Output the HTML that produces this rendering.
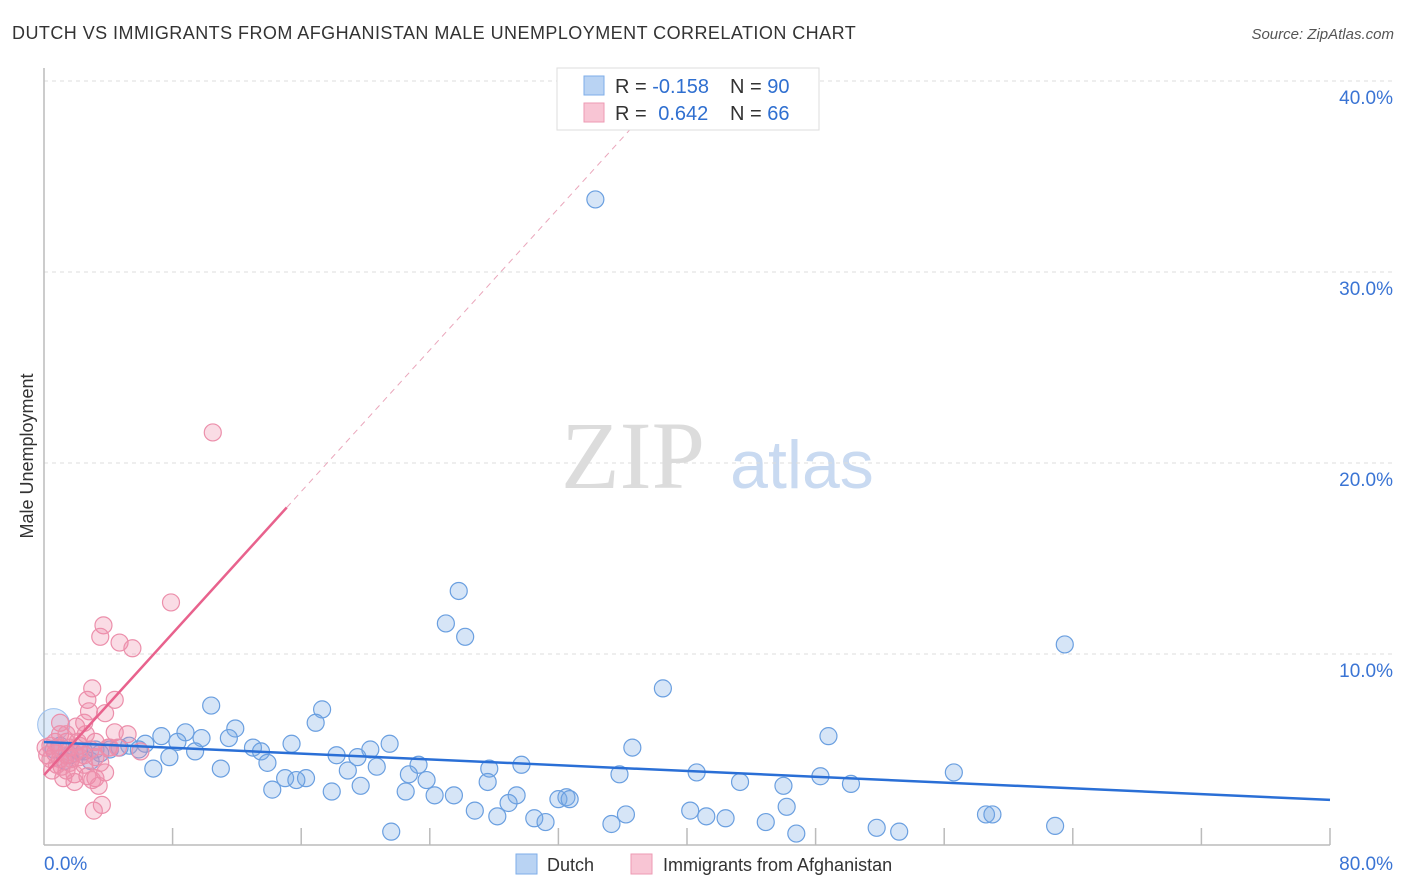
<!DOCTYPE html>
<html><head><meta charset="utf-8">
<style>
body{margin:0;background:#fff;font-family:"Liberation Sans",sans-serif;}
svg{display:block}
</style></head>
<body>
<svg id="chart" width="1406" height="892">
<text x="12" y="39" font-size="18" letter-spacing="0.45" fill="#333">DUTCH VS IMMIGRANTS FROM AFGHANISTAN MALE UNEMPLOYMENT CORRELATION CHART</text>
<text x="1394" y="39" font-size="15" font-style="italic" fill="#555" text-anchor="end">Source: ZipAtlas.com</text>
<text x="633" y="488" font-size="96" font-family="Liberation Serif,serif" fill="#dcdcdc" text-anchor="middle">ZIP</text>
<text x="802" y="488" font-size="68" fill="#c9daf1" text-anchor="middle">atlas</text>
<text transform="translate(33,456) rotate(-90)" font-size="18" fill="#333" text-anchor="middle">Male Unemployment</text>
<g id="grid"></g>
<g id="marks"></g>
<g>
<rect x="557" y="68" width="262" height="62" fill="#fff" stroke="#ddd"/>
<rect x="584" y="76" width="20" height="19" fill="#b9d3f3" stroke="#7eaee8"/>
<rect x="584" y="103" width="20" height="19" fill="#f8c5d4" stroke="#ee9ab3"/>
<text x="615" y="93" font-size="20" fill="#333">R = <tspan fill="#2f6fd0">-0.158</tspan></text>
<text x="730" y="93" font-size="20" fill="#333">N = <tspan fill="#2f6fd0">90</tspan></text>
<text x="615" y="120" font-size="20" fill="#333">R = <tspan fill="#2f6fd0" dx="6">0.642</tspan></text>
<text x="730" y="120" font-size="20" fill="#333">N = <tspan fill="#2f6fd0">66</tspan></text>
</g>
<g>
<rect x="516" y="854" width="21" height="20" fill="#b9d3f3" stroke="#7eaee8"/>
<text x="547" y="871" font-size="18" fill="#333">Dutch</text>
<rect x="631" y="854" width="21" height="20" fill="#f8c5d4" stroke="#ee9ab3"/>
<text x="663" y="871" font-size="18" fill="#333">Immigrants from Afghanistan</text>
</g>
</svg>
<script>
const yTicks=[10,20,30,40];
const yTickLabels=["10.0%","20.0%","30.0%","40.0%"];
const xTickVals=[0,8,16,24,32,40,48,56,64,72,80];
const dutchX=[34.3,25.8,25.0,26.2,63.5,38.5,10.4,17.3,16.9,11.9,8.8,7.3,48.8,11.5,9.8,8.3,6.3,15.4,21.5,36.6,13.0,20.3,13.5,18.2,19.5,7.8,9.4,4.7,13.9,23.3,29.7,27.7,6.8,11.0,18.9,20.7,56.6,35.8,40.6,22.7,15.0,16.3,15.7,48.3,23.8,27.6,43.3,50.2,46.0,14.2,17.9,19.7,22.5,24.3,25.5,29.4,32.0,32.5,32.7,28.9,46.2,40.2,26.8,36.2,58.6,59.0,28.2,41.2,30.5,42.4,31.2,44.9,35.3,51.8,62.9,53.2,46.8,21.6,0.6,2.2,3.2,4.1,1.6,1.0,3.5,5.3,5.9,2.9,1.3,2.5];
const dutchY=[33.8,13.3,11.6,10.9,10.5,8.2,7.3,7.1,6.4,6.1,5.9,5.7,5.7,5.6,5.6,5.4,5.3,5.3,5.3,5.1,5.1,5.0,4.9,4.7,4.6,4.6,4.9,5.1,4.3,4.2,4.2,4.0,4.0,4.0,3.9,4.1,3.8,3.7,3.8,3.7,3.5,3.5,3.4,3.6,3.4,3.3,3.3,3.2,3.1,2.9,2.8,3.1,2.8,2.6,2.6,2.6,2.4,2.5,2.4,2.2,2.0,1.8,1.8,1.6,1.6,1.6,1.5,1.5,1.4,1.4,1.2,1.2,1.1,0.9,1.0,0.7,0.6,0.7,5.0,4.9,5.0,5.0,4.7,5.2,4.8,5.2,5.0,4.4,4.4,4.9];
const afghanX=[10.5,7.9,3.7,3.5,4.7,5.5,3.0,4.4,2.7,3.8,2.8,1.0,2.0,2.5,5.2,1.4,1.0,4.4,3.2,4.1,6.0,0.4,0.7,1.4,1.6,1.9,2.2,2.5,2.9,1.0,1.6,2.2,3.2,0.4,0.7,1.4,0.1,0.9,3.5,3.8,2.7,3.2,1.9,1.2,4.0,4.6,2.5,1.1,1.7,3.4,3.0,3.6,3.1,0.2,0.5,2.1,2.6,1.4,0.8,1.9];
const afghanY=[21.6,12.7,11.5,10.9,10.6,10.3,8.2,7.6,7.6,6.9,7.0,6.4,6.2,6.4,5.8,5.4,5.8,5.9,5.4,5.1,4.9,5.2,4.8,4.7,5.1,4.8,5.2,4.7,5.0,4.5,4.3,4.6,4.6,4.5,5.4,3.9,5.1,5.1,4.3,3.8,3.6,3.5,3.7,3.5,5.1,5.1,4.2,4.1,4.5,3.1,3.4,2.1,1.8,4.7,3.9,5.4,5.8,5.8,4.2,3.3];
const dutchLine=[[0,5.39],[80,2.36]];
const afghanSolid=[[0,3.66],[15.1,17.67]];
const afghanDash=[[15.1,17.67],[39.2,40]];

const NS="http://www.w3.org/2000/svg";
const X0=44,X1=1330,Y0=845,PXY=19.1;
function sx(v){return X0+v*(X1-X0)/80;}
function sy(v){return Y0-v*PXY;}
function mk(t,a,parent){const e=document.createElementNS(NS,t);for(const k in a)e.setAttribute(k,a[k]);parent.appendChild(e);return e;}
const grid=document.getElementById('grid'),marks=document.getElementById('marks');
yTicks.forEach((v,i)=>{
  const l=mk('line',{x1:X0,x2:1394,y1:sy(v),y2:sy(v),stroke:'#ddd','stroke-dasharray':'4,4'},grid);
  
  
  const t=mk('text',{x:1393,y:sy(v)+23,'font-size':19,fill:'#3a74d4','text-anchor':'end'},grid);
  t.textContent=yTickLabels[i];
  
  
});
const ax=mk('line',{x1:X0,x2:X1,y1:Y0,y2:Y0,stroke:'#bbb','stroke-width':1.5},grid);


const ay=mk('line',{x1:X0,x2:X0,y1:68,y2:Y0,stroke:'#bbb','stroke-width':1.5},grid);


xTickVals.slice(1).forEach(v=>{
  const l=mk('line',{x1:sx(v),x2:sx(v),y1:828,y2:Y0,stroke:'#bbb','stroke-width':1.5},grid);
  
  
});
const xl0=mk('text',{x:44,y:870,'font-size':19,fill:'#3a74d4'},grid);xl0.textContent='0.0%';


const xl1=mk('text',{x:1393,y:870,'font-size':19,fill:'#3a74d4','text-anchor':'end'},grid);xl1.textContent='80.0%';



const big=mk('circle',{cx:sx(0.6),cy:sy(6.3),r:16,fill:'rgba(120,170,230,0.25)',stroke:'#9cc0ee'},marks);


dutchX.forEach((x,i)=>{
  const c=mk('circle',{cx:sx(x),cy:sy(dutchY[i]),r:8.5,fill:'rgba(120,170,230,0.3)',stroke:'#6a9fe0','stroke-width':1.2},marks);
  
  
});
afghanX.forEach((x,i)=>{
  const c=mk('circle',{cx:sx(x),cy:sy(afghanY[i]),r:8.5,fill:'rgba(240,140,170,0.3)',stroke:'#ec8fab','stroke-width':1.2},marks);
  
  
});
const bl=mk('line',{x1:sx(dutchLine[0][0]),y1:sy(dutchLine[0][1]),x2:sx(dutchLine[1][0]),y2:sy(dutchLine[1][1]),stroke:'#2a6fd6','stroke-width':2.5},marks);


const pl=mk('line',{x1:sx(afghanSolid[0][0]),y1:sy(afghanSolid[0][1]),x2:sx(afghanSolid[1][0]),y2:sy(afghanSolid[1][1]),stroke:'#e8628d','stroke-width':2.5},marks);


const pd=mk('line',{x1:sx(afghanDash[0][0]),y1:sy(afghanDash[0][1]),x2:sx(afghanDash[1][0]),y2:sy(afghanDash[1][1]),stroke:'#eaa6bb','stroke-width':1,'stroke-dasharray':'6,5'},marks);


</script>
</body></html>
